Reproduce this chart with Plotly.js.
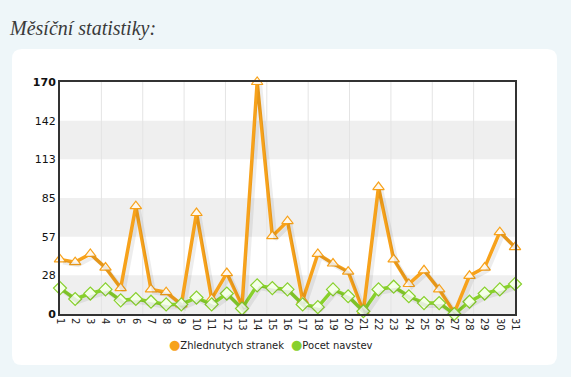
<!DOCTYPE html>
<html><head><meta charset="utf-8">
<script src="https://cdn.plot.ly/plotly-3.0.1.min.js"></script>
<style>html,body{margin:0;padding:0;background:#eef6f9;}#chart{width:571px;height:377px;}</style>
</head><body><div id="chart"></div>
<script>
var days = [];
for (var d = 1; d <= 31; d++) days.push(d);
var pageviews = [40,38,44,34,19,79,18,16,7,74,11,30,6,170,57,68,10,44,37,31,2,93,40,22,32,18,1,28,34,60,49];
var visits = [19,11,15,18,10,11,9,7,7,12,7,15,4,21,19,18,7,5,18,13,2,18,20,13,8,8,0,9,15,18,22];
var seriesNames = ["Zhlednutych stranek", "Pocet navstev"];
var yTickVals = [0, 170/6, 340/6, 85, 680/6, 850/6, 170];
var yTickText = ["<b>0</b>","28","57","85","113","142","<b>170</b>"];
var title = "Měsíční statistiky:";

var orange = "#f7a21b", green = "#88d02c";
var L=60,R=515,T=82,B=314, W=R-L, H=B-T;
function px(x){return (x-L)/W;} function py(y){return (B-y)/H;}

var shapes = [];
var x0=px(12), x1=px(557), y0=py(365), y1=py(49), rx=10/W, ry=10/H;
shapes.push({type:"path", xref:"paper", yref:"paper", layer:"below", fillcolor:"#ffffff", line:{width:0},
  path:"M"+(x0+rx)+","+y1+" L"+(x1-rx)+","+y1+" Q"+x1+","+y1+" "+x1+","+(y1-ry)+" L"+x1+","+(y0+ry)+" Q"+x1+","+y0+" "+(x1-rx)+","+y0+
       " L"+(x0+rx)+","+y0+" Q"+x0+","+y0+" "+x0+","+(y0+ry)+" L"+x0+","+(y1-ry)+" Q"+x0+","+y1+" "+(x0+rx)+","+y1+" Z"});
[[0,1],[2,3],[4,5]].forEach(function(p){
  shapes.push({type:"rect", xref:"x domain", yref:"y", x0:0, x1:1, y0:yTickVals[p[0]], y1:yTickVals[p[1]], layer:"below", fillcolor:"#efefef", line:{width:0}});
});
for (var k=1;k<11;k++) shapes.push({type:"line", xref:"x domain", yref:"y domain", x0:k/11, x1:k/11, y0:0, y1:1, layer:"below", line:{color:"#e4e4e4", width:1}});

var sdx = 3*30/W, sdy = 3*170/H;
var traces = [
  {x:days, y:pageviews, xaxis:"x2", yaxis:"y2", mode:"lines", line:{color:"rgba(0,0,0,0.07)", width:4}, showlegend:false, hoverinfo:"skip"},
  {x:days, y:visits, xaxis:"x2", yaxis:"y2", mode:"lines", line:{color:"rgba(0,0,0,0.07)", width:4}, showlegend:false, hoverinfo:"skip"},
  {x:days, y:pageviews, name:seriesNames[0], mode:"lines+markers", cliponaxis:false, showlegend:false,
   line:{color:orange, width:3.5}, marker:{symbol:"triangle-up", size:10, color:"#fff8ec", line:{color:orange, width:1.2}}},
  {x:days, y:visits, name:seriesNames[1], mode:"lines+markers", cliponaxis:false, showlegend:false,
   line:{color:green, width:3.5}, marker:{symbol:"diamond", size:10, color:"#f4ffe8", line:{color:green, width:1.2}}}
];

var legendFont = {family:"DejaVu Sans, Verdana, sans-serif", size:10, color:"#222"};
var annotations = [
  {xref:"paper", yref:"paper", x:px(167), y:py(344), xanchor:"left", yanchor:"middle", showarrow:false, font:legendFont,
   text:"<span style='color:"+orange+";font-size:13px'>●</span>"+seriesNames[0]},
  {xref:"paper", yref:"paper", x:px(289), y:py(344), xanchor:"left", yanchor:"middle", showarrow:false, font:legendFont,
   text:"<span style='color:"+green+";font-size:13px'>●</span>"+seriesNames[1]}
];

var layout = {
  width:571, height:377,
  paper_bgcolor:"#eef6f9", plot_bgcolor:"rgba(0,0,0,0)",
  margin:{l:L, r:571-R, t:T, b:377-B, pad:0},
  title:{text:"<i>"+title+"</i>", xref:"container", yref:"container", x:10/571, xanchor:"left", y:1-28/377, yanchor:"middle",
    font:{family:"Liberation Serif, serif", size:20, color:"#3a3a3a"}},
  font:{family:"DejaVu Sans, Verdana, sans-serif", size:10, color:"#111"},
  xaxis:{range:[1,31], tickvals:days, ticktext:days.map(String), tickangle:90, showgrid:false, zeroline:false,
    showline:true, mirror:true, linecolor:"#333", linewidth:2, ticks:"", tickfont:{size:10, color:"#222"}, fixedrange:true},
  yaxis:{range:[0,170], tickvals:yTickVals, ticktext:yTickText, showgrid:false, zeroline:false,
    showline:true, mirror:true, linecolor:"#333", linewidth:2, ticks:"", tickfont:{size:11, color:"#111"}, fixedrange:true},
  xaxis2:{overlaying:"x", range:[1-sdx,31-sdx], visible:false, fixedrange:true},
  yaxis2:{overlaying:"y", range:[0+sdy,170+sdy], visible:false, fixedrange:true},
  showlegend:false,
  annotations:annotations,
  shapes:shapes
};
Plotly.newPlot("chart", traces, layout, {displayModeBar:false, staticPlot:true});
</script></body></html>
